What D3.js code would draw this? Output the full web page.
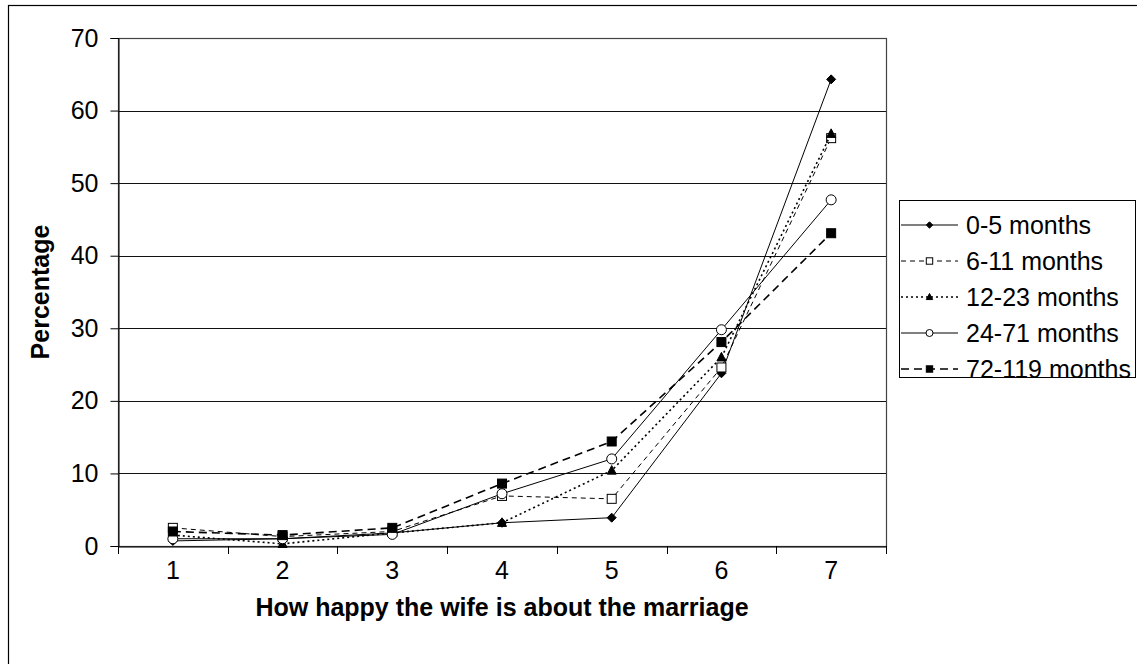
<!DOCTYPE html>
<html>
<head>
<meta charset="utf-8">
<script src="https://cdn.jsdelivr.net/npm/d3@7"></script>
<style>
  html, body { margin: 0; padding: 0; background: #fff; }
  svg { display: block; font-family: "Liberation Sans", Arial, sans-serif; }
</style>
</head>
<body>
<svg id="chart" width="1137" height="664"></svg>
<script>
const categories = [1, 2, 3, 4, 5, 6, 7];
const yTicks = [0, 10, 20, 30, 40, 50, 60, 70];
const seriesNames = ["0-5 months", "6-11 months", "12-23 months", "24-71 months", "72-119 months"];
const s0_5 = [0.7, 1.0, 1.8, 3.2, 3.9, 23.8, 64.3];
const s6_11 = [2.5, 1.3, 2.0, 6.9, 6.5, 24.6, 56.2];
const s12_23 = [1.5, 0.3, 1.8, 3.2, 10.4, 26.0, 56.8];
const s24_71 = [1.0, 1.0, 1.6, 7.2, 12.0, 29.8, 47.7];
const s72_119 = [2.0, 1.5, 2.5, 8.6, 14.4, 28.1, 43.1];
const seriesValues = [s0_5, s6_11, s12_23, s24_71, s72_119];

const styles = [
  { dash: null, width: 1, marker: "diamond", fill: "#000" },
  { dash: "5,4", width: 1, marker: "square", fill: "#fff" },
  { dash: "2,3", width: 1.6, marker: "triangle", fill: "#000" },
  { dash: null, width: 1, marker: "circle", fill: "#fff" },
  { dash: "8,5", width: 1.6, marker: "square", fill: "#000" }
];

const svg = d3.select("#chart");
const L = 118, R = 886, T = 38, B = 546;

// outer border
svg.append("rect").attr("x", 8.5).attr("y", 5.5).attr("width", 1200).attr("height", 800)
  .attr("fill", "none").attr("stroke", "#000").attr("stroke-width", 1.2);

const x = d3.scaleBand().domain(categories).range([L, R]).padding(0);
const y = d3.scaleLinear().domain([0, 70]).range([B, T]);

// gridlines
svg.append("g").selectAll("line").data(yTicks.filter(d => d > 0)).join("line")
  .attr("x1", L).attr("x2", R)
  .attr("y1", d => Math.round(y(d)) + 0.5).attr("y2", d => Math.round(y(d)) + 0.5)
  .attr("stroke", "#111").attr("stroke-width", 1);

// plot border
svg.append("rect").attr("x", L + 0.5).attr("y", T + 0.5).attr("width", R - L).attr("height", B - T)
  .attr("fill", "none").attr("stroke", "#444").attr("stroke-width", 1.2);

// y axis
const yAxis = d3.axisLeft(y).tickValues(yTicks).tickSize(8).tickPadding(12);
const gy = svg.append("g").attr("transform", `translate(${L + 0.5},0)`).call(yAxis);
gy.select(".domain").attr("stroke", "#000");
gy.selectAll(".tick line").attr("stroke", "#000");
gy.selectAll("text").attr("font-size", 25).attr("fill", "#000").attr("font-family", "Liberation Sans, Arial, sans-serif");

// x axis
const xAxis = d3.axisBottom(x).tickSize(0).tickPadding(15);
const gx = svg.append("g").attr("transform", `translate(0,${B + 0.5})`).call(xAxis);
gx.select(".domain").attr("stroke", "#000");
gx.selectAll("text").attr("font-size", 25).attr("fill", "#000").attr("font-family", "Liberation Sans, Arial, sans-serif");
// boundary ticks
const bounds = categories.map(c => x(c)).concat([x(categories[categories.length - 1]) + x.bandwidth()]);
svg.append("g").selectAll("line").data(bounds).join("line")
  .attr("x1", d => Math.round(d) + 0.5).attr("x2", d => Math.round(d) + 0.5)
  .attr("y1", B).attr("y2", B + 8).attr("stroke", "#000");

const cx = c => x(c) + x.bandwidth() / 2;

function drawMarker(g, type, px, py, size, fill) {
  if (type === "diamond") {
    g.append("path").attr("d", `M${px},${py - size}L${px + size},${py}L${px},${py + size}L${px - size},${py}Z`)
      .attr("fill", "#000").attr("stroke", "#000");
  } else if (type === "square") {
    g.append("rect").attr("x", px - size).attr("y", py - size).attr("width", 2 * size).attr("height", 2 * size)
      .attr("fill", fill).attr("stroke", "#000").attr("stroke-width", 1);
  } else if (type === "triangle") {
    g.append("path").attr("d", `M${px},${py - size * 1.1}L${px + size},${py + size * 0.8}L${px - size},${py + size * 0.8}Z`)
      .attr("fill", "#000").attr("stroke", "#000");
  } else if (type === "circle") {
    g.append("circle").attr("cx", px).attr("cy", py).attr("r", size)
      .attr("fill", fill).attr("stroke", "#000").attr("stroke-width", 1);
  }
}

const line = d3.line().x((d, i) => cx(categories[i])).y(d => y(d));

seriesValues.forEach((vals, si) => {
  const st = styles[si];
  const g = svg.append("g");
  g.append("path").datum(vals).attr("d", line)
    .attr("fill", "none").attr("stroke", "#000").attr("stroke-width", st.width)
    .attr("stroke-dasharray", st.dash);
  vals.forEach((v, i) => drawMarker(g, st.marker, cx(categories[i]), y(v), st.marker === "circle" ? 5 : 4.5, st.fill));
});

// axis titles
svg.append("text").attr("x", (L + R) / 2).attr("y", 616).attr("text-anchor", "middle")
  .attr("font-size", 25).attr("font-weight", "bold").text("How happy the wife is about the marriage");
svg.append("text").attr("transform", `translate(49,${(T + B) / 2}) rotate(-90)`).attr("text-anchor", "middle")
  .attr("font-size", 25).attr("font-weight", "bold").text("Percentage");

// legend
const lg = svg.append("g");
lg.append("rect").attr("x", 899.5).attr("y", 200.5).attr("width", 236).attr("height", 177)
  .attr("fill", "#fff").attr("stroke", "#000").attr("stroke-width", 1);
seriesNames.forEach((name, i) => {
  const st = styles[i];
  const ly = 225 + i * 36;
  lg.append("line").attr("x1", 901).attr("x2", 958).attr("y1", ly).attr("y2", ly)
    .attr("stroke", "#000").attr("stroke-width", st.width).attr("stroke-dasharray", st.dash);
  drawMarker(lg, st.marker, 929.5, ly, st.marker === "circle" ? 3.5 : 3.2, st.fill);
  lg.append("text").attr("x", 966).attr("y", ly).attr("dy", "0.36em")
    .attr("font-size", 25).text(name);
});
</script>
</body>
</html>
